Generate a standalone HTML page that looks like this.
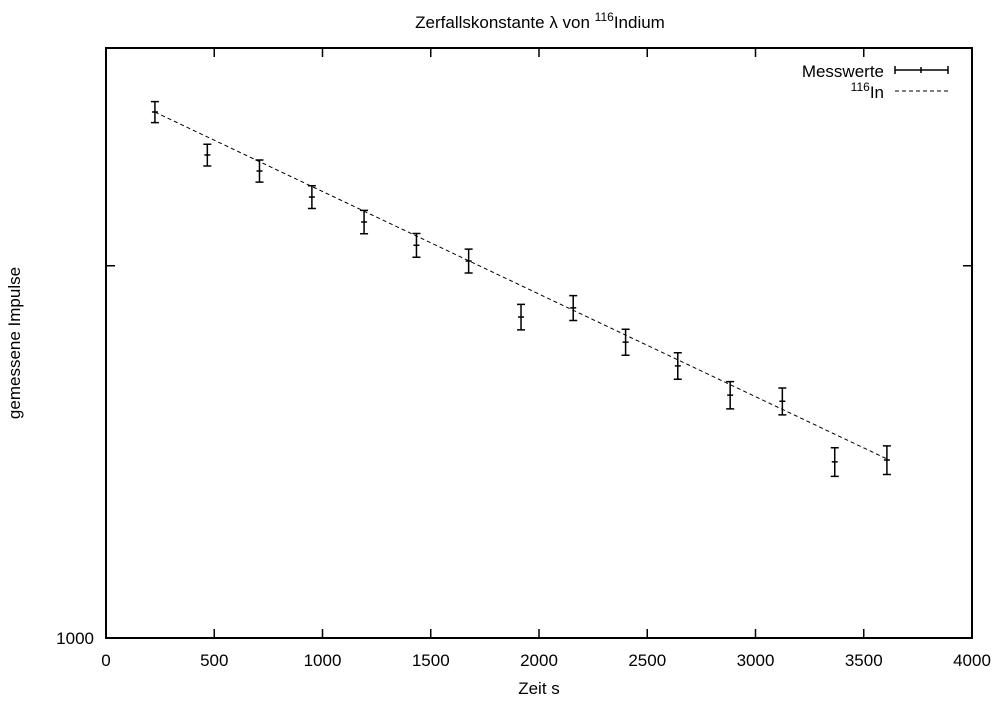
<!DOCTYPE html>
<html><head><meta charset="utf-8"><style>
body{margin:0;background:#fff;}
svg text{font-family:"Liberation Sans",sans-serif;font-size:17px;fill:#000;}
</style></head><body>
<svg width="1002" height="698" xmlns="http://www.w3.org/2000/svg" id="chart">
<text x="540" y="28" text-anchor="middle">Zerfallskonstante λ von <tspan dy="-7" font-size="12">116</tspan><tspan dy="7">Indium</tspan></text>
<text x="539" y="694" text-anchor="middle">Zeit s</text>
<text x="20" y="343" text-anchor="middle" transform="rotate(-90 20 343)">gemessene Impulse</text>
<g id="axes"></g>
<g id="marks"></g>
<rect x="106" y="48" width="866" height="590" fill="none" stroke="#000" stroke-width="2"/>
<g>
<text x="884" y="77" text-anchor="end">Messwerte</text>
<path d="M895 70H948M895 66V74M948 66V74M921 67V73" stroke="#000" stroke-width="1.5"/>
<text x="884" y="98" text-anchor="end"><tspan dy="-7" font-size="12">116</tspan><tspan dy="7">In</tspan></text>
<line x1="895" y1="91" x2="948" y2="91" stroke="#000" stroke-dasharray="4,3"/>
</g>
</svg>
<script>
const times=[226,468,709,951,1192,1434,1675,1917,2158,2400,2641,2883,3124,3366,3607];
const counts=[2663,2458,2386,2273,2170,2078,2018,1818,1849,1735,1660,1572,1554,1388,1393];
const errors=[52,50,49,48,47,46,45,43,43,42,41,40,39,37,37];
const xTicks=[0,500,1000,1500,2000,2500,3000,3500,4000];
const yTicks=[1000,2000];
const yTickLabels=["1000",""];
const fitA=2780, fitLambda=1.91e-4;
const L=106,R=972,T=48,B=638,xMax=4000,yMin=1000,yMax=3000;
const X=v=>L+v/xMax*(R-L);
const Y=v=>B-Math.log(v/yMin)/Math.log(yMax/yMin)*(B-T);
const NS="http://www.w3.org/2000/svg";
function mk(tag,attrs,parent){const e=document.createElementNS(NS,tag);for(const k in attrs)e.setAttribute(k,attrs[k]);parent.appendChild(e);return e;}
const ax=document.getElementById('axes'),mg=document.getElementById('marks');
xTicks.forEach(t=>{const x=X(t);
 const p=mk('path',{d:`M${x} ${B}V${B-9}M${x} ${T}V${T+9}`,stroke:'#000','stroke-width':1.5},ax);
 
 
 const tx=mk('text',{x:x,y:666,'text-anchor':'middle'},ax);tx.textContent=t;
 
 
});
yTicks.forEach((t,i)=>{const y=Y(t);
 const p=mk('path',{d:`M${L} ${y}H${L+9}M${R} ${y}H${R-9}`,stroke:'#000','stroke-width':1.5},ax);
 
 
 const tx=mk('text',{x:94,y:y+6,'text-anchor':'end'},ax);tx.textContent=yTickLabels[i];
 
 
});
let d='';
const t0=times[0],t1=times[times.length-1];
for(let k=0;k<=100;k++){const t=t0+(t1-t0)*k/100;d+=(d?'L':'M')+X(t)+' '+Y(fitA*Math.exp(-fitLambda*t));}
const fl=mk('path',{d:d,fill:'none',stroke:'#000','stroke-dasharray':'4,3'},mg);


times.forEach((t,i)=>{const x=X(t),y=Y(counts[i]),y1=Y(counts[i]+errors[i]),y2=Y(counts[i]-errors[i]);
 const p=mk('path',{d:`M${x} ${y1}V${y2}M${x-4} ${y1}H${x+4}M${x-4} ${y2}H${x+4}M${x-3} ${y}H${x+3}`,stroke:'#000','stroke-width':1.5,fill:'none'},mg);
 
 
});
</script>
</body></html>
